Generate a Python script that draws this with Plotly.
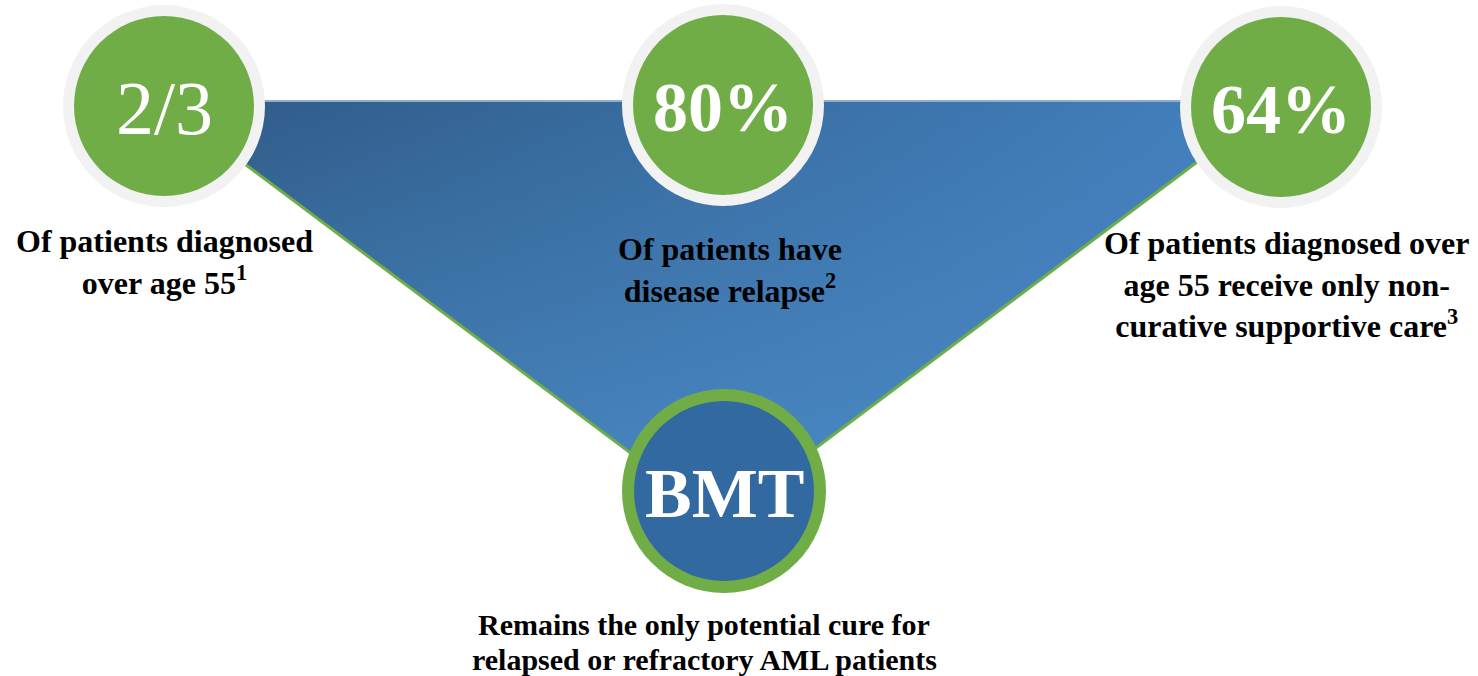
import plotly.graph_objects as go

W, H = 1478, 676

# ---- content ----
stats = ["2/3", "80%", "64%"]
stat_bold = [False, True, True]
captions = [
    "Of patients diagnosed<br>over age 55<sup>1</sup>",
    "Of patients have<br>disease relapse<sup>2</sup>",
    "Of patients diagnosed over<br>age 55 receive only non-<br>curative supportive care<sup>3</sup>",
]
center_label = "BMT"
center_caption_lines = ["Remains the only potential cure for",
                        "relapsed or refractory AML patients"]

# ---- layout (pixel space) ----
circle_x = [164, 723, 1281]
circle_y = [106, 105, 107]
cap_x = [164, 730, 1286]
cap_y = [262, 270, 284]
bmt_x, bmt_y = 724, 491
bottom_y = [624, 659]
tri_x = [162, 1277, 720, 162]
tri_y = [102, 102, 520, 102]

GREEN = "#70AD47"
RING = "#F2F2F2"
BLUE = "#3169A0"
SERIF = "Liberation Serif, Times New Roman, serif"

fig = go.Figure()

# triangle: horizontal gradient base
fig.add_trace(go.Scatter(
    x=tri_x, y=tri_y, mode="lines", fill="toself", line=dict(width=0),
    fillgradient=dict(type="horizontal", colorscale=[[0, "#2F5A86"], [1, "#4381BE"]]),
    hoverinfo="skip", showlegend=False))
# vertical lightening overlay (stronger toward the bottom)
fig.add_trace(go.Scatter(
    x=tri_x, y=tri_y, mode="lines", fill="toself", line=dict(width=0),
    fillgradient=dict(type="vertical",
                      colorscale=[[0, "rgba(80,148,210,0.7)"], [1, "rgba(80,148,210,0)"]]),
    hoverinfo="skip", showlegend=False))
# top highlight
fig.add_trace(go.Scatter(x=tri_x[:2], y=[101, 101], mode="lines",
                         line=dict(color="#6C93BA", width=1.5),
                         hoverinfo="skip", showlegend=False))
# green slanted edges
fig.add_trace(go.Scatter(x=[tri_x[0], tri_x[2], tri_x[1]], y=[tri_y[0], tri_y[2], tri_y[1]],
                         mode="lines", line=dict(color=GREEN, width=3),
                         hoverinfo="skip", showlegend=False))

shapes = []
def circ(cx, cy, r, color):
    return dict(type="circle", xref="x", yref="y", x0=cx - r, x1=cx + r, y0=cy - r, y1=cy + r,
                fillcolor=color, line=dict(width=0), layer="above")

for cx, cy in zip(circle_x, circle_y):
    shapes.append(circ(cx, cy, 101, RING))
    shapes.append(circ(cx, cy, 90, GREEN))
shapes.append(circ(bmt_x, bmt_y, 102, GREEN))
shapes.append(circ(bmt_x, bmt_y, 90, BLUE))

ann = []
for s, b, cx, cy in zip(stats, stat_bold, circle_x, circle_y):
    txt = "<b>" + s + "</b>" if b else s
    ann.append(dict(x=cx, y=cy + 2, text=txt, showarrow=False,
                    font=dict(family=SERIF, size=70 if b else 76, color="white"),
                    xanchor="center", yanchor="middle"))
for c, cx, cy in zip(captions, cap_x, cap_y):
    ann.append(dict(x=cx, y=cy, text="<b>" + c + "</b>", showarrow=False,
                    font=dict(family=SERIF, size=32, color="black"),
                    xanchor="center", yanchor="middle", align="center"))
ann.append(dict(x=bmt_x, y=bmt_y + 2, text="<b>" + center_label + "</b>", showarrow=False,
                font=dict(family=SERIF, size=70, color="white"),
                xanchor="center", yanchor="middle"))
for line, ly in zip(center_caption_lines, bottom_y):
    ann.append(dict(x=704, y=ly, text="<b>" + line + "</b>", showarrow=False,
                    font=dict(family=SERIF, size=30, color="black"), borderpad=0,
                    xanchor="center", yanchor="middle", align="center"))

fig.update_layout(
    width=W, height=H, margin=dict(l=0, r=0, t=0, b=0),
    paper_bgcolor="white", plot_bgcolor="white",
    xaxis=dict(range=[0, W], visible=False, fixedrange=True),
    yaxis=dict(range=[H, 0], visible=False, fixedrange=True),
    shapes=shapes, annotations=ann, showlegend=False,
)

fig.write_html("out.html", config={"displayModeBar": False},
               post_script="document.body.style.margin='0';document.body.style.overflow='hidden';")
